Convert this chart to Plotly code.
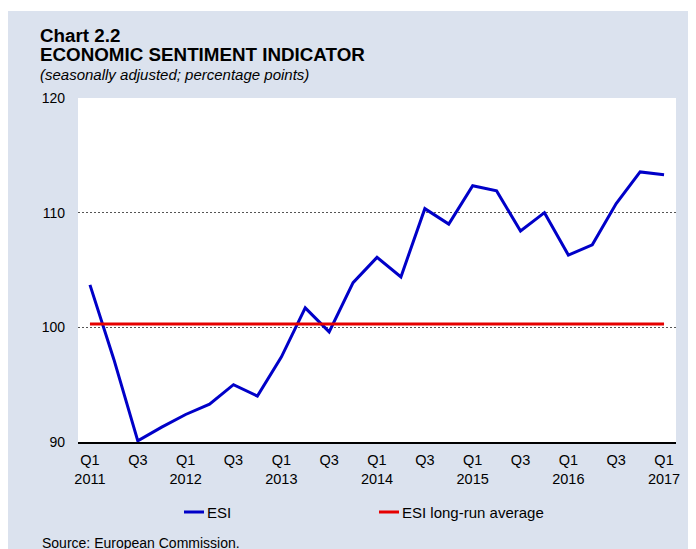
import plotly.graph_objects as go

# ---- data ----
quarters = ["2011Q1", "2011Q2", "2011Q3", "2011Q4",
            "2012Q1", "2012Q2", "2012Q3", "2012Q4",
            "2013Q1", "2013Q2", "2013Q3", "2013Q4",
            "2014Q1", "2014Q2", "2014Q3", "2014Q4",
            "2015Q1", "2015Q2", "2015Q3", "2015Q4",
            "2016Q1", "2016Q2", "2016Q3", "2016Q4",
            "2017Q1"]
esi = [103.7, 97.2, 90.1, 91.3,
       92.4, 93.3, 95.0, 94.0,
       97.4, 101.7, 99.6, 103.9,
       106.1, 104.4, 110.35, 109.0,
       112.35, 111.9, 108.4, 110.0,
       106.3, 107.2, 110.8, 113.55,
       113.3]
esi_long_run_average = [100.3] * len(quarters)
tick_quarters = quarters[::2]
tick_labels = ["Q1<br>2011", "Q3", "Q1<br>2012", "Q3", "Q1<br>2013", "Q3",
               "Q1<br>2014", "Q3", "Q1<br>2015", "Q3", "Q1<br>2016", "Q3",
               "Q1<br>2017"]
series_names = ["ESI", "ESI long-run average"]
series_colors = ["#0000c8", "#e60000"]

# ---- layout geometry (figure pixels; page adds an 8px body margin) ----
W, H = 688, 541
L, R, T, B = 70, 20, 90, 107
PW = W - L - R
PH = H - T - B


def px(x):
    return (x - L) / PW


def py(y):
    return (H - B - y) / PH


FONT = "Liberation Sans, Arial, sans-serif"
PANEL = "#dbe2ee"

fig = go.Figure()
fig.add_trace(go.Scatter(x=quarters, y=esi, mode="lines", name=series_names[0],
                         line=dict(color=series_colors[0], width=3)))
fig.add_trace(go.Scatter(x=quarters, y=esi_long_run_average, mode="lines",
                         name=series_names[1],
                         line=dict(color=series_colors[1], width=3)))

shapes = [
    # thin white strip above the panel
    dict(type="rect", xref="paper", yref="paper", x0=px(0), x1=px(W), y0=py(3), y1=py(0),
         fillcolor="white", line=dict(width=0), layer="below"),
]
annotations = [
    dict(text="<b>Chart 2.2</b>", x=px(30), y=py(28), font=dict(size=18.8, color="black")),
    dict(text="<b>ECONOMIC SENTIMENT INDICATOR</b>", x=px(30), y=py(46),
         font=dict(size=18.8, color="black")),
    dict(text="<i>(seasonally adjusted; percentage points)</i>", x=px(30), y=py(66),
         font=dict(size=15, color="black")),
    dict(text="Source: European Commission.", x=px(32), y=py(535),
         font=dict(size=14, color="black")),
]
# legend (custom, to match reference sample length)
legend_items = [(176, 196), (371, 391)]
for (x0, x1), name, col in zip(legend_items, series_names, series_colors):
    shapes.append(dict(type="line", xref="paper", yref="paper", x0=px(x0), x1=px(x1),
                       y0=py(504), y1=py(504), line=dict(color=col, width=3)))
    annotations.append(dict(text=name, x=px(x1 + 1), y=py(504),
                            font=dict(size=15, color="black")))
for a in annotations:
    a.update(xref="paper", yref="paper", xanchor="left", yanchor="middle",
             showarrow=False)

fig.update_layout(
    width=W, height=H,
    margin=dict(l=L, r=R, t=T, b=B, pad=0),
    paper_bgcolor=PANEL,
    plot_bgcolor="white",
    showlegend=False,
    font=dict(family=FONT, size=14, color="black"),
    shapes=shapes,
    annotations=annotations,
)
fig.update_xaxes(type="category", categoryorder="array", categoryarray=quarters,
                 range=[-0.5, len(quarters) - 0.5],
                 tickmode="array", tickvals=tick_quarters, ticktext=tick_labels,
                 showgrid=False, showline=True, linecolor="black", linewidth=2,
                 ticks="", ticklabelstandoff=4, tickfont=dict(size=14.5))
fig.update_yaxes(range=[90, 120], dtick=10, tick0=90,
                 showgrid=True, gridcolor="#555555", gridwidth=1, griddash="2px,2px",
                 zeroline=False, showline=False, ticks="", ticklabelstandoff=12,
                 tickfont=dict(size=14))

fig.write_html("out.html")
